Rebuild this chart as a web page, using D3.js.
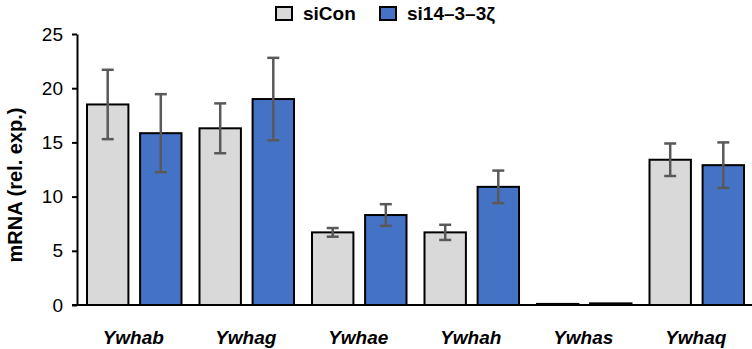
<!DOCTYPE html>
<html>
<head>
<meta charset="utf-8">
<script src="https://cdn.jsdelivr.net/npm/d3@7"></script>
<style>
  body { margin: 0; background: #fff; }
  text { font-family: "Liberation Sans", Arial, sans-serif; }
</style>
</head>
<body>
<svg id="chart" width="752" height="349"></svg>
<script>

// data
var genes = ["Ywhab", "Ywhag", "Ywhae", "Ywhah", "Ywhas", "Ywhaq"];
var series = ["siCon", "si14\u20133\u20133\u03b6"];
var siConMean = [18.5, 16.3, 6.7, 6.7, 0.1, 13.4];
var siConErr  = [3.2, 2.3, 0.4, 0.7, 0.03, 1.5];
var siZetaMean = [15.85, 19.0, 8.3, 10.9, 0.15, 12.9];
var siZetaErr  = [3.6, 3.8, 1.0, 1.5, 0.03, 2.1];
var yTicks = [0, 5, 10, 15, 20, 25];
var colors = ["#d9d9d9", "#4472c4"];

var svg = d3.select("#chart");
svg.margin = {left: 77, top: 34, right: 0, bottom: 44};
svg.width = 752 - svg.margin.left - svg.margin.right;
svg.height = 349 - svg.margin.top - svg.margin.bottom;

var means = [siConMean, siZetaMean], errs = [siConErr, siZetaErr];

var x0 = d3.scaleBand().domain(genes).range([0, svg.width]).padding(0);
var x1 = d3.scaleBand().domain(series).range([10, x0.bandwidth() - 8]).paddingInner(0.22);
var y = d3.scaleLinear().domain([0, 25]).range([svg.height, 0]);

var g = svg.append("g").attr("transform", "translate(" + [svg.margin.left, svg.margin.top] + ")");

/****** bars ******/
series.forEach(function(s, si){
  var grp = g.append("g");
  genes.forEach(function(gene, i){
    var v = means[si][i];
    grp.append("rect")
      .attr("x", x0(gene) + x1(s))
      .attr("y", y(v))
      .attr("width", x1.bandwidth())
      .attr("height", y(0) - y(v))
      .attr("fill", colors[si])
      .attr("stroke", "#000")
      .attr("stroke-width", 2);
  });
});

/****** error bars ******/
series.forEach(function(s, si){
  genes.forEach(function(gene, i){
    var v = means[si][i], e = errs[si][i];
    if (v < 1) return;
    var cx = x0(gene) + x1(s) + x1.bandwidth() / 2;
    var eb = g.append("g").attr("stroke", "#595959").attr("stroke-width", 2.5);
    eb.append("line").attr("x1", cx).attr("x2", cx).attr("y1", y(v + e)).attr("y2", y(v - e));
    eb.append("line").attr("x1", cx - 6).attr("x2", cx + 6).attr("y1", y(v + e)).attr("y2", y(v + e));
    eb.append("line").attr("x1", cx - 6).attr("x2", cx + 6).attr("y1", y(v - e)).attr("y2", y(v - e));
  });
});

/****** axes ******/
var axisY = g.append("g")
  .call(d3.axisLeft(y).tickValues(yTicks).tickSize(5).tickSizeOuter(0).tickPadding(9));
axisY.select(".domain").attr("stroke", "#000").attr("stroke-width", 2);
axisY.selectAll(".tick line").attr("stroke", "#000").attr("stroke-width", 2);
axisY.selectAll(".tick text").attr("font-size", 19).attr("fill", "#000")
  .style("font-family", "Liberation Sans, Arial, sans-serif");

var axisX = g.append("g").attr("transform", "translate(0," + svg.height + ")")
  .call(d3.axisBottom(x0).tickSize(0).tickPadding(25.5));
axisX.select(".domain").attr("stroke", "#000").attr("stroke-width", 2)
  .attr("d", "M-5,0H" + svg.width);
axisX.selectAll(".tick text").attr("font-size", 19).attr("fill", "#000")
  .attr("font-style", "italic").attr("font-weight", "bold")
  .style("font-family", "Liberation Sans, Arial, sans-serif");

//Label of the y axis
svg.append("text")
  .attr("transform", "translate(22,185) rotate(-90)")
  .attr("text-anchor", "middle")
  .attr("font-size", 20)
  .attr("font-weight", "bold")
  .text("mRNA (rel. exp.)");

/****** legend ******/
var legendX = [276, 380];
series.forEach(function(s, si){
  var lg = svg.append("g").attr("transform", "translate(" + legendX[si] + ",7)");
  lg.append("rect").attr("width", 16).attr("height", 13)
    .attr("fill", colors[si]).attr("stroke", "#000").attr("stroke-width", 2);
  lg.append("text").attr("x", 27).attr("y", 13)
    .attr("font-size", 19).attr("font-weight", "bold").text(s);
});

</script>
</body>
</html>
